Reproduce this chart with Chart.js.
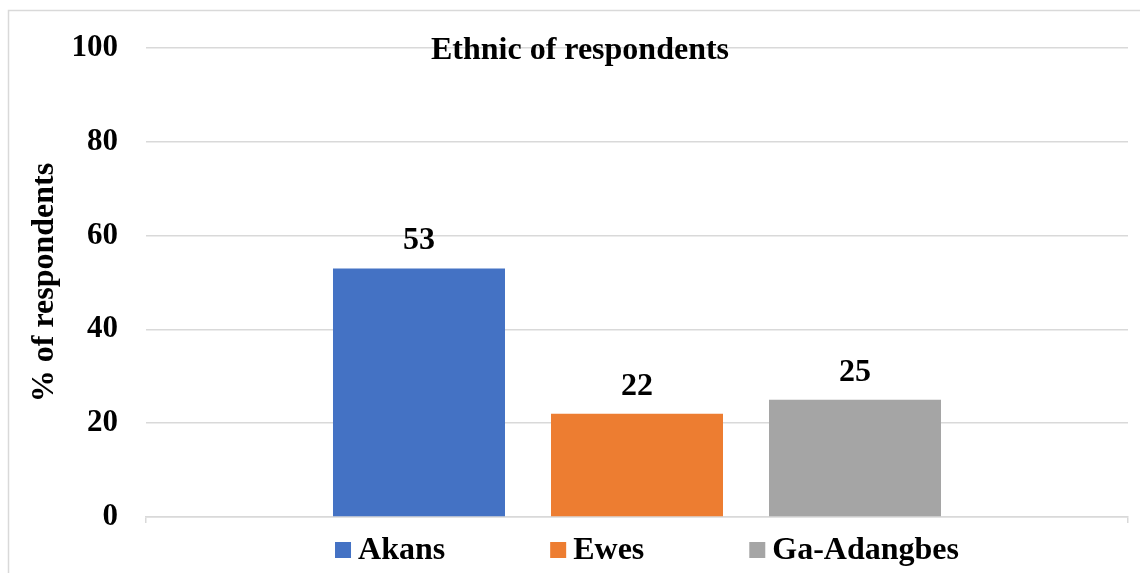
<!DOCTYPE html>
<html>
<head>
<meta charset="utf-8">
<title>Ethnic of respondents</title>
<script src="https://cdn.jsdelivr.net/npm/chart.js@4/dist/chart.umd.min.js"></script>
<style>
  html, body { margin: 0; padding: 0; background: #fff; }
  #wrap { width: 1140px; height: 573px; }
</style>
</head>
<body>
<div id="wrap"><canvas id="chartEthnic"></canvas></div>
<script>
// Données : groupes ethniques et pourcentages
const groups = ["Akans", "Ewes", "Ga-Adangbes"];
const percents = [53, 22, 25];
const colors = ["#4472C4", "#ED7D31", "#A5A5A5"];
const yTicks = [0, 20, 40, 60, 80, 100];

const FONT = "'Liberation Serif', 'Times New Roman', serif";

// Cadre, titre, étiquettes de valeur et légende dessinés à la main
const decor = {
  id: "decor",
  beforeDraw(chart) {
    const c = chart.ctx;
    c.save();
    c.strokeStyle = "#d9d9d9";
    c.lineWidth = 1.5;
    c.strokeRect(8.5, 10.5, 1200, 700);
    c.restore();
  },
  afterDatasetsDraw(chart) {
    const c = chart.ctx;
    c.save();
    c.fillStyle = "#000";
    c.font = "bold 32px " + FONT;
    c.textAlign = "center";
    c.textBaseline = "alphabetic";
    // titre superposé au graphique
    c.fillText("Ethnic of respondents", 580, 59);
    // valeurs au-dessus des barres
    chart.data.datasets.forEach((ds, i) => {
      const bar = chart.getDatasetMeta(i).data[0];
      c.fillText(String(ds.data[0]), bar.x, bar.y - 19);
    });
    // légende en bas
    const box = 16, gapText = 7, gapItem = 105;
    const widths = chart.data.datasets.map(ds => box + gapText + c.measureText(ds.label).width);
    const total = widths.reduce((a, b) => a + b, 0) + gapItem * (widths.length - 1);
    const area = chart.chartArea;
    let x = (area.left + area.right) / 2 + 10 - total / 2;
    const cy = 550;
    c.textAlign = "left";
    c.textBaseline = "middle";
    chart.data.datasets.forEach((ds, i) => {
      c.fillStyle = ds.backgroundColor;
      c.fillRect(x, cy - box / 2, box, box);
      c.fillStyle = "#000";
      c.fillText(ds.label, x + box + gapText, cy + 1);
      x += widths[i] + gapItem;
    });
    c.restore();
  }
};

new Chart(document.getElementById("chartEthnic"), {
  type: "bar",
  data: {
    labels: [""],
    datasets: groups.map((g, i) => ({
      label: g,
      data: [percents[i]],
      backgroundColor: colors[i],
      borderWidth: 0,
      categoryPercentage: 0.666,
      barPercentage: 0.789
    }))
  },
  options: {
    responsive: true,
    maintainAspectRatio: false,
    animation: false,
    layout: { padding: { left: 0, top: 48, right: 12, bottom: 0 } },
    plugins: {
      legend: { display: false },
      title: { display: false },
      tooltip: { enabled: false }
    },
    scales: {
      x: {
        grid: {
          offset: true,
          drawOnChartArea: false,
          drawTicks: true,
          tickLength: 6,
          color: "#d9d9d9",
          lineWidth: 1.5
        },
        border: { display: true, color: "#d9d9d9", width: 1.5 },
        ticks: { display: false },
        afterFit: s => { s.height = 56; }
      },
      y: {
        min: 0,
        max: 100,
        afterBuildTicks: s => { s.ticks = yTicks.map(v => ({ value: v })); },
        grid: { color: "#d9d9d9", lineWidth: 1.5, drawTicks: false },
        border: { display: false },
        ticks: {
          padding: 28,
          color: "#000",
          font: { family: FONT, size: 31, weight: "bold" }
        },
        title: {
          display: true,
          text: "% of respondents",
          color: "#000",
          padding: { top: 26, bottom: 0 },
          font: { family: FONT, size: 32, weight: "bold" }
        },
        afterFit: s => { s.width = 146; }
      }
    }
  },
  plugins: [decor]
});
</script>
</body>
</html>
